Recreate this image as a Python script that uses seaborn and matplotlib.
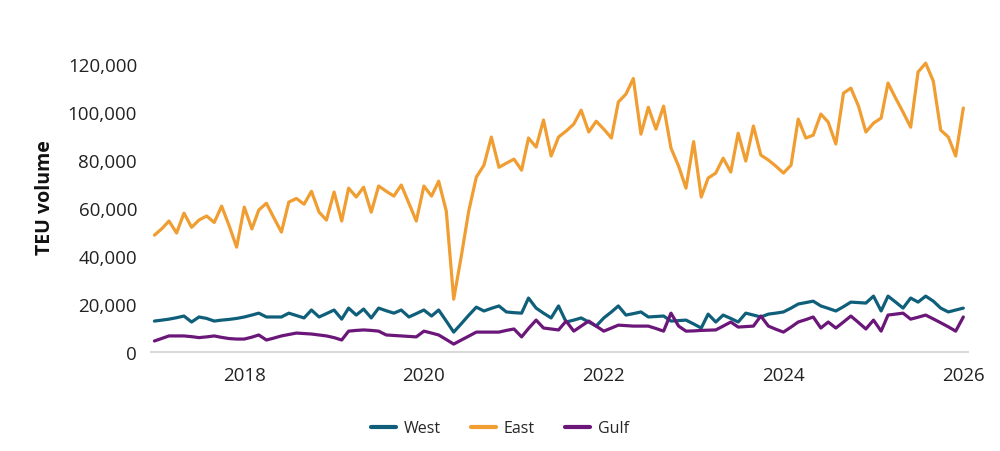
import numpy as np
import pandas as pd
import matplotlib
matplotlib.use("Agg")
import matplotlib.pyplot as plt
import seaborn as sns
from matplotlib.lines import Line2D

# Monthly TEU volume, Jan 2017 - Jan 2026 (thousands)
start_month = "2017-01-01"
n_months = 109

west_k = [12.9, 13.3, 13.7, 14.3, 15.0, 12.5, 14.6, 14.0, 12.9, 13.3, 13.6, 14.0,
          14.6, 15.4, 16.2, 14.6, 14.6, 14.6, 16.2, 15.2, 14.2, 17.5, 14.6, 16.0,
          17.5, 13.7, 18.3, 15.4, 17.9, 14.2, 18.3, 17.2, 16.2, 17.5, 14.6, 16.0,
          17.5, 15.0, 17.5, 12.9, 8.3, 11.8, 15.3, 18.7, 17.1, 18.2, 19.2, 16.7,
          16.4, 16.2, 22.5, 18.3, 16.2, 14.2, 19.2, 12.5, 13.3, 14.2, 12.5, 10.8,
          14.2, 16.7, 19.2, 15.4, 16.0, 16.7, 14.6, 14.8, 15.0, 12.9, 13.1, 13.3,
          11.7, 10.0, 15.8, 12.5, 15.4, 14.0, 12.5, 16.2, 15.4, 14.6, 15.8, 16.2,
          16.7, 18.3, 20.0, 20.6, 21.2, 19.2, 18.2, 17.1, 18.9, 20.8, 20.6, 20.4,
          23.3, 17.1, 23.3, 20.8, 18.3, 22.5, 20.8, 23.3, 21.2, 18.3, 16.7, 17.5,
          18.3]

east_k = [48.7, 51.5, 54.6, 49.6, 57.9, 52.0, 55.0, 56.7, 54.0, 60.8, 52.5, 43.7,
          60.4, 51.3, 59.2, 62.0, 56.0, 50.0, 62.5, 64.0, 61.6, 67.0, 58.3, 55.0,
          66.7, 54.6, 68.3, 64.6, 68.7, 58.3, 69.2, 67.0, 65.0, 69.6, 62.0, 54.6,
          69.2, 65.0, 71.2, 58.7, 22.0, 40.0, 58.7, 72.9, 77.9, 89.6, 77.0, 78.7,
          80.4, 75.8, 89.2, 85.4, 96.7, 81.7, 89.6, 92.1, 95.0, 100.8, 91.7, 96.2,
          92.9, 89.2, 104.2, 107.5, 114.0, 90.8, 102.0, 92.9, 102.5, 85.0, 77.5, 68.3,
          87.7, 64.6, 72.5, 74.6, 80.8, 75.0, 91.2, 79.6, 94.2, 82.1, 80.0, 77.5,
          74.6, 77.9, 97.1, 89.2, 90.4, 99.2, 95.8, 86.7, 107.9, 110.0, 102.5, 91.7,
          95.4, 97.5, 112.1, 105.8, 100.0, 93.7, 116.7, 120.4, 112.9, 92.5, 89.6, 81.7,
          101.7]

gulf_k = [4.6, 5.7, 6.7, 6.7, 6.7, 6.4, 6.0, 6.3, 6.7, 6.1, 5.6, 5.4,
          5.4, 6.2, 7.1, 5.0, 5.8, 6.7, 7.3, 7.9, 7.7, 7.5, 7.1, 6.7,
          6.0, 5.0, 8.7, 9.0, 9.2, 9.0, 8.7, 7.1, 6.9, 6.7, 6.5, 6.3,
          8.7, 7.9, 7.1, 5.2, 3.3, 5.0, 6.6, 8.3, 8.3, 8.3, 8.3, 9.0,
          9.6, 6.3, 9.8, 13.3, 10.0, 9.6, 9.2, 12.9, 8.7, 10.8, 12.9, 10.8,
          8.7, 10.0, 11.2, 11.0, 10.8, 10.8, 10.8, 9.8, 8.7, 16.2, 10.8, 8.7,
          8.8, 9.0, 9.1, 9.2, 10.8, 12.5, 10.4, 10.6, 10.8, 15.0, 10.8, 9.5,
          8.3, 10.4, 12.5, 13.5, 14.6, 10.0, 12.5, 10.0, 12.5, 15.0, 12.3, 9.6,
          13.3, 8.7, 15.4, 15.8, 16.2, 13.7, 14.5, 15.4, 13.8, 12.2, 10.5, 8.7,
          14.6]

regions = ["West", "East", "Gulf"]
colors = ["#0f5f7a", "#f09d32", "#6b1679"]
year_ticks = [2018, 2020, 2022, 2024, 2026]
y_ticks = [0, 20000, 40000, 60000, 80000, 100000, 120000]

dates = pd.date_range(start_month, periods=n_months, freq="MS")
df = pd.concat([
    pd.DataFrame({"date": dates, "region": r, "teu": np.array(v) * 1000})
    for r, v in zip(regions, [west_k, east_k, gulf_k])
], ignore_index=True)

sns.set_theme(style="white")
plt.rcParams["font.family"] = ["Open Sans", "DejaVu Sans"]

fig = plt.figure(figsize=(10, 4.52), dpi=100)
ax = fig.add_axes([0.151, 0.219, 0.817, 0.69])

sns.lineplot(data=df, x="date", y="teu", hue="region", hue_order=regions,
             palette=dict(zip(regions, colors)), linewidth=2.3, ax=ax,
             legend=False)

ax.set_ylim(0, 130000)
ax.set_xlim(pd.Timestamp("2016-12-18"), pd.Timestamp("2026-01-20"))
ax.set_yticks(y_ticks)
ax.set_yticklabels([f"{v:,}" for v in y_ticks], fontsize=13.5, color="#222222")
ax.set_xticks([pd.Timestamp(f"{y}-01-01") for y in year_ticks])
ax.set_xticklabels([str(y) for y in year_ticks], fontsize=13.5, color="#222222")
ax.tick_params(axis="both", length=0)
ax.tick_params(axis="y", pad=10)
ax.tick_params(axis="x", pad=10)

for s in ["top", "right", "left"]:
    ax.spines[s].set_visible(False)
ax.spines["bottom"].set_color("#d9d9d9")
ax.spines["bottom"].set_linewidth(1.5)

ax.set_xlabel("")
ax.set_ylabel("TEU volume", fontsize=14, fontweight="bold", color="#111111")
ax.yaxis.set_label_coords(-0.118, 0.5)

handles = [Line2D([0], [0], color=c, lw=3) for c in colors]
fig.legend(handles, regions, loc="center", bbox_to_anchor=(0.5, 0.05), ncol=3,
           frameon=False, fontsize=11.5, handlelength=1.55, handletextpad=0.5,
           columnspacing=1.9)

fig.savefig("out.png", dpi=100, facecolor="white")
